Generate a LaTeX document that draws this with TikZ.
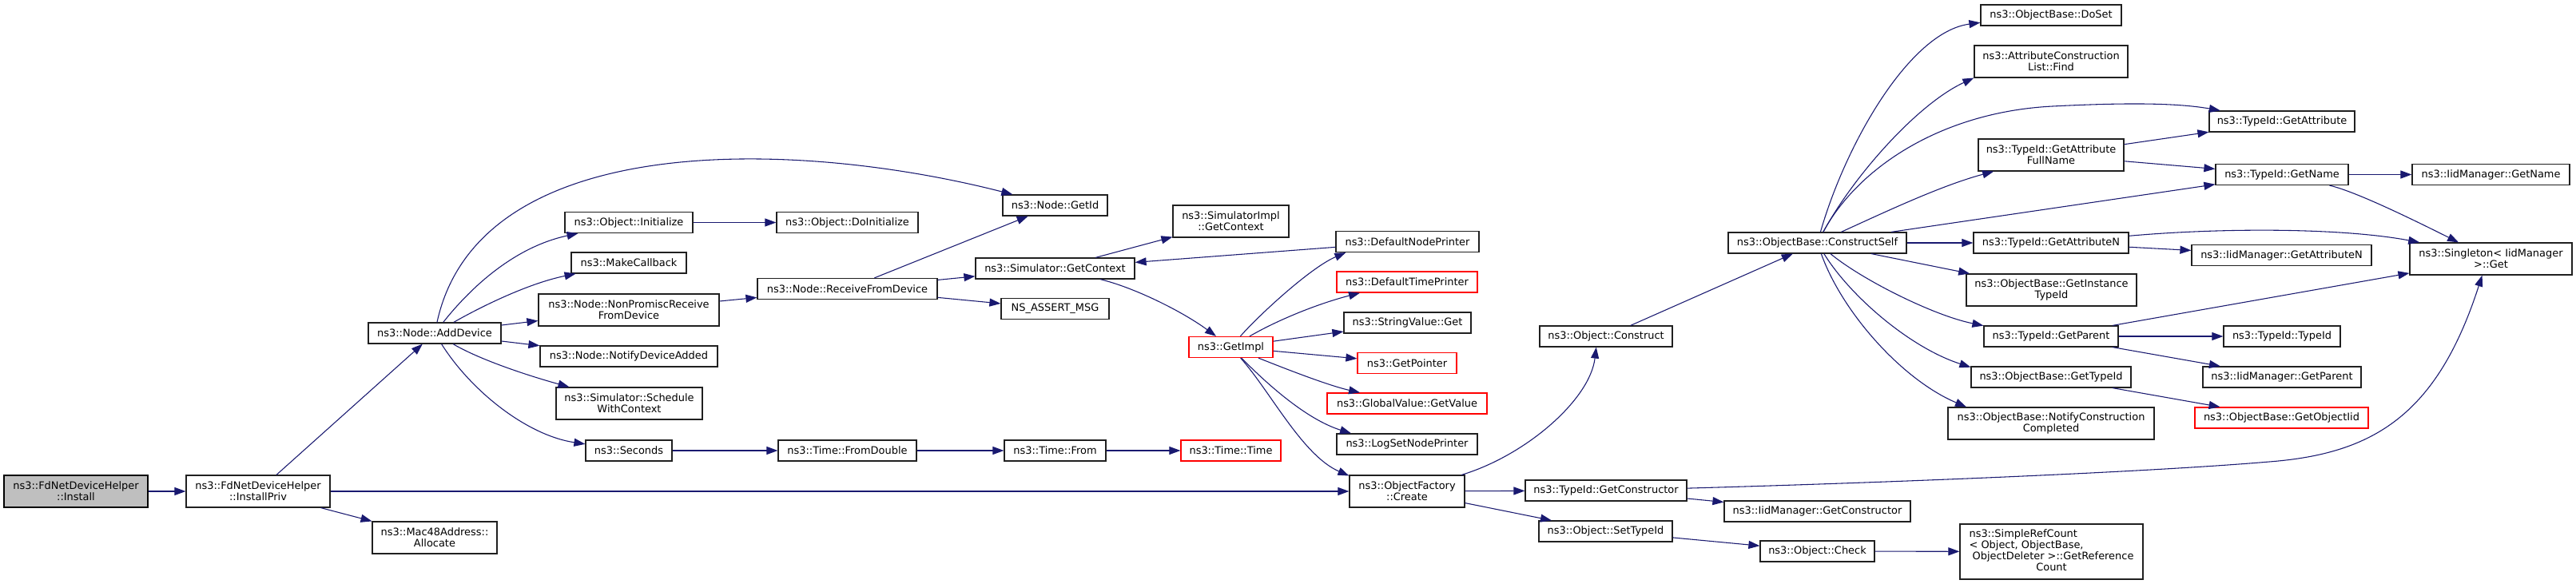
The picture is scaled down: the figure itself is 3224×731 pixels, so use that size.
\documentclass[tikz,border=0pt]{standalone}
\usepackage{fontspec}
\setmainfont{DejaVu Sans}
\usetikzlibrary{arrows.meta}
\definecolor{edgec}{HTML}{191970}
\definecolor{boxc}{HTML}{202020}
\definecolor{rootfill}{HTML}{BFBFBF}
\tikzset{
  box/.style={draw=boxc, line width=0.9pt, fill=white, inner sep=0pt, align=center,
    font=\fontsize{9.7}{10.5}\selectfont, text=black},
  redbox/.style={draw=red},
  rootbox/.style={draw=black, fill=rootfill},
  edge/.style={draw=edgec, line width=0.8pt, -{Triangle[length=10.5pt,width=7.5pt]}},
}
\newcommand\bx[7][]{\node[box,#1,minimum width={0.75pt*(#5-#3)},minimum height={0.75pt*(#6-#4)}] (#2) at ({(#3+#5)/2},{(#4+#6)/2}) {#7};}
\begin{document}
\begin{tikzpicture}[x=0.75pt,y=-0.75pt]
\fill[white] (0,0) rectangle (3224,731);
\useasboundingbox (0,0) rectangle (3224,731);
% nodes
\bx[rootbox]{install}{5}{595}{185}{635}{ns3::FdNetDeviceHelper\\::Install}
\bx{ipriv}{233}{595}{413}{635}{ns3::FdNetDeviceHelper\\::InstallPriv}
\bx{adddev}{461}{404}{627}{430}{ns3::Node::AddDevice}
\bx{mac48}{466}{653}{622}{693}{ns3::Mac48Address::\\Allocate}
\bx{init}{707}{265.5}{867}{291.5}{ns3::Object::Initialize}
\bx{mkcb}{715}{316}{859}{342}{ns3::MakeCallback}
\bx{nonpr}{674}{368}{900}{408}{ns3::Node::NonPromiscReceive\\FromDevice}
\bx{notif}{676}{433}{898}{459}{ns3::Node::NotifyDeviceAdded}
\bx{sched}{696}{485}{879}{525}{ns3::Simulator::Schedule\\WithContext}
\bx{secs}{733}{551}{841}{577}{ns3::Seconds}
\bx{doinit}{972}{265.5}{1149}{291.5}{ns3::Object::DoInitialize}
\bx{recv}{948}{348.5}{1173}{374.5}{ns3::Node::ReceiveFromDevice}
\bx{fromd}{974}{551}{1147}{577}{ns3::Time::FromDouble}
\bx{getid}{1255}{244}{1386}{270}{ns3::Node::GetId}
\bx{simimpl}{1468}{257}{1613}{297}{ns3::SimulatorImpl\\::GetContext}
\bx{simctx}{1221}{323}{1420}{349}{ns3::Simulator::GetContext}
\bx{nsassert}{1253}{373.5}{1388}{399.5}{NS\_ASSERT\_MSG}
\bx[redbox]{getimpl}{1488}{421.5}{1593}{447.5}{ns3::GetImpl}
\bx{tfrom}{1257}{551}{1384}{577}{ns3::Time::From}
\bx[redbox]{ttime}{1478}{551}{1603}{577}{ns3::Time::Time}
\bx{dnp}{1672}{289.5}{1851}{315.5}{ns3::DefaultNodePrinter}
\bx[redbox]{dtp}{1673}{340}{1849}{366}{ns3::DefaultTimePrinter}
\bx{strv}{1682}{391}{1841}{417}{ns3::StringValue::Get}
\bx[redbox]{getptr}{1699}{441.5}{1823}{467.5}{ns3::GetPointer}
\bx[redbox]{gval}{1661}{492}{1861}{518}{ns3::GlobalValue::GetValue}
\bx{logsnp}{1673}{543}{1849}{569}{ns3::LogSetNodePrinter}
\bx{ofcreate}{1689}{595}{1833}{635}{ns3::ObjectFactory\\::Create}
\bx{oconstr}{1927}{408}{2093}{434}{ns3::Object::Construct}
\bx{getctor}{1909}{601}{2111}{627}{ns3::TypeId::GetConstructor}
\bx{settid}{1926}{652}{2093}{678}{ns3::Object::SetTypeId}
\bx{cself}{2163}{291}{2386}{317}{ns3::ObjectBase::ConstructSelf}
\bx{doset}{2479}{6}{2655}{32}{ns3::ObjectBase::DoSet}
\bx{acfind}{2471}{57}{2663}{97}{ns3::AttributeConstruction\\List::Find}
\bx{gafull}{2476}{174}{2658}{214}{ns3::TypeId::GetAttribute\\FullName}
\bx{gattrn}{2470}{291}{2664}{317}{ns3::TypeId::GetAttributeN}
\bx{ginst}{2461}{343}{2674}{383}{ns3::ObjectBase::GetInstance\\TypeId}
\bx{gparent}{2483}{408}{2651}{434}{ns3::TypeId::GetParent}
\bx{obgtid}{2467}{459}{2667}{485}{ns3::ObjectBase::GetTypeId}
\bx{notifc}{2438}{510}{2696}{550}{ns3::ObjectBase::NotifyConstruction\\Completed}
\bx{iidctor}{2158}{627}{2391}{653}{ns3::IidManager::GetConstructor}
\bx{ocheck}{2203}{677}{2346}{703}{ns3::Object::Check}
\bx{srefc}{2453}{656}{2682}{725}{\begin{tabular}{@{}l@{}}ns3::SimpleRefCount\\< Object, ObjectBase,\\\ ObjectDeleter >::GetReference\\\multicolumn{1}{@{}c@{}}{Count}\end{tabular}}
\bx{gattr}{2765}{139}{2947}{165}{ns3::TypeId::GetAttribute}
\bx{gname}{2773}{205.5}{2939}{231.5}{ns3::TypeId::GetName}
\bx{iidname}{3019}{205.5}{3216}{231.5}{ns3::IidManager::GetName}
\bx{singl}{3016}{304}{3219}{344}{ns3::Singleton< IidManager\\>::Get}
\bx{iidattrn}{2743}{306.5}{2968}{332.5}{ns3::IidManager::GetAttributeN}
\bx{tidtid}{2783}{408}{2929}{434}{ns3::TypeId::TypeId}
\bx{iidparent}{2757}{459}{2955}{485}{ns3::IidManager::GetParent}
\bx[redbox]{gobjiid}{2747}{510}{2964}{536}{ns3::ObjectBase::GetObjectIid}
% edges
\draw[edge] (install) -- (ipriv);
\draw[edge] (ipriv) -- (adddev);
\draw[edge] (ipriv) -- (ofcreate);
\draw[edge] (ipriv) -- (mac48);
\draw[edge] (adddev) .. controls (600,160) and (1000,175) .. (getid);
\draw[edge] (adddev) .. controls (585,365) and (640,310) .. (init);
\draw[edge] (adddev) .. controls (600,385) and (660,355) .. (mkcb);
\draw[edge] (adddev) -- (nonpr);
\draw[edge] (adddev) -- (notif);
\draw[edge] (adddev) .. controls (600,450) and (660,470) .. (sched);
\draw[edge] (adddev) .. controls (590,490) and (660,545) .. (secs);
\draw[edge] (init) -- (doinit);
\draw[edge] (nonpr) -- (recv);
\draw[edge] (recv) -- (getid);
\draw[edge] (recv) -- (simctx);
\draw[edge] (recv) -- (nsassert);
\draw[edge] (simctx) -- (simimpl);
\draw[edge] (simctx) .. controls (1420,360) and (1480,390) .. (getimpl);
\draw[edge] (dnp) -- (simctx);
\draw[edge] (getimpl) .. controls (1575,395) and (1640,335) .. (dnp.190);
\draw[edge] (getimpl) .. controls (1600,400) and (1650,380) .. (dtp.193);
\draw[edge] (getimpl) -- (strv);
\draw[edge] (getimpl) -- (getptr);
\draw[edge] (getimpl) .. controls (1600,458) and (1660,482) .. (gval.167);
\draw[edge] (getimpl) .. controls (1585,480) and (1635,525) .. (logsnp.169);
\draw[edge] (getimpl) .. controls (1590,490) and (1630,570) .. (ofcreate.165);
\draw[edge] (secs) -- (fromd);
\draw[edge] (fromd) -- (tfrom);
\draw[edge] (tfrom) -- (ttime);
\draw[edge] (ofcreate) .. controls (1910,570) and (1990,500) .. (oconstr.228);
\draw[edge] (ofcreate) -- (getctor);
\draw[edge] (ofcreate) -- (settid);
\draw[edge] (oconstr) -- (cself);
\draw[edge] (cself) .. controls (2310,180) and (2390,40) .. (doset.186);
\draw[edge] (cself) .. controls (2320,220) and (2400,130) .. (acfind.192);
\draw[edge] (cself) .. controls (2325,210) and (2430,140) .. (2569,133) .. controls (2649,129) and (2720,128) .. (gattr.170);
\draw[edge] (cself) .. controls (2360,265) and (2430,232) .. (gafull.196);
\draw[edge] (cself) -- (gname);
\draw[edge] (cself) -- (gattrn);
\draw[edge] (cself) -- (ginst);
\draw[edge] (cself) .. controls (2330,350) and (2420,395) .. (gparent.171);
\draw[edge] (cself) .. controls (2315,370) and (2390,435) .. (obgtid.173);
\draw[edge] (cself) .. controls (2305,390) and (2380,475) .. (notifc.169);
\draw[edge] (gafull) -- (gattr);
\draw[edge] (gafull) -- (gname);
\draw[edge] (gname) -- (iidname);
\draw[edge] (gname) .. controls (2950,240) and (3030,280) .. (singl.153);
\draw[edge] (gattrn) .. controls (2780,285) and (2930,285) .. (singl.167);
\draw[edge] (gattrn) -- (iidattrn);
\draw[edge] (gparent) -- (singl);
\draw[edge] (gparent) -- (tidtid);
\draw[edge] (gparent) -- (iidparent);
\draw[edge] (obgtid) -- (gobjiid);
\draw[edge] (getctor) .. controls (2400,603) and (2700,590) .. (2840,578) .. controls (2970,568) and (3050,520) .. (singl.242);
\draw[edge] (getctor) -- (iidctor);
\draw[edge] (settid) -- (ocheck);
\draw[edge] (ocheck) -- (srefc);
\end{tikzpicture}
\end{document}
